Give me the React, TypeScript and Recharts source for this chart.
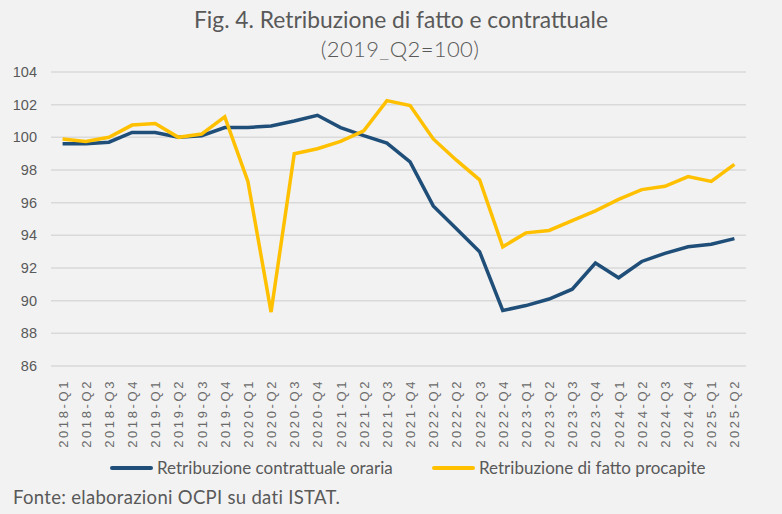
import React from 'react';
import { LineChart, Line, XAxis, YAxis, CartesianGrid, Customized } from 'recharts';

const quarters = [
  '2018-Q1', '2018-Q2', '2018-Q3', '2018-Q4',
  '2019-Q1', '2019-Q2', '2019-Q3', '2019-Q4',
  '2020-Q1', '2020-Q2', '2020-Q3', '2020-Q4',
  '2021-Q1', '2021-Q2', '2021-Q3', '2021-Q4',
  '2022-Q1', '2022-Q2', '2022-Q3', '2022-Q4',
  '2023-Q1', '2023-Q2', '2023-Q3', '2023-Q4',
  '2024-Q1', '2024-Q2', '2024-Q3', '2024-Q4',
  '2025-Q1', '2025-Q2',
];

const contrattualeOraria = [
  99.6, 99.6, 99.7, 100.3, 100.3, 100.0, 100.1, 100.6,
  100.6, 100.7, 101.0, 101.35, 100.6, 100.1, 99.65, 98.5,
  95.8, 94.4, 93.0, 89.4, 89.7, 90.1, 90.7, 92.3,
  91.4, 92.4, 92.9, 93.3, 93.45, 93.8,
];

const fattoProcapite = [
  99.9, 99.75, 100.0, 100.75, 100.85, 100.0, 100.2, 101.25,
  97.3, 89.3, 99.0, 99.3, 99.75, 100.4, 102.25, 101.95,
  99.9, 98.6, 97.4, 93.3, 94.15, 94.3, 94.9, 95.5,
  96.2, 96.8, 97.0, 97.6, 97.3, 98.35,
];

const yTicks = [86, 88, 90, 92, 94, 96, 98, 100, 102, 104];

const seriesNames = ['Retribuzione contrattuale oraria', 'Retribuzione di fatto procapite'];

const data = quarters.map((q, i) => ({
  q,
  contr: contrattualeOraria[i],
  fatto: fattoProcapite[i],
}));

const FONT = "Lato, 'Noto Sans', sans-serif";
const AXIS_FONT = "'Liberation Sans', Arial, sans-serif";
const GREY_TEXT = '#595959';
const BLUE = '#1f4e79';
const YELLOW = '#ffc000';

// Excel-style vertical labels, read bottom to top, wide tracking
const QuarterTick = (props: any) => {
  const { x, y, payload } = props;
  return (
    <g transform={`translate(${x},${y + 5})`}>
      <text
        transform="rotate(-90)"
        x={0}
        y={0}
        dy={5}
        textAnchor="end"
        fill="#6a6a6a"
        fontSize={13}
        fontFamily={AXIS_FONT}
        letterSpacing={2.6}
      >
        {payload.value}
      </text>
    </g>
  );
};

const PlotBackground = (props: any) => {
  const { offset } = props;
  if (!offset) return null;
  return <rect x={offset.left} y={offset.top} width={offset.width} height={offset.height} fill="#ffffff" />;
};

export default function App() {
  const band = 695 / quarters.length;
  return (
    <div style={{ position: 'absolute', left: 0, top: 0, width: 782, height: 514, background: '#f2f2f2', fontFamily: FONT, color: GREY_TEXT, overflow: 'hidden' }}>
      <div style={{ position: 'absolute', top: 5, left: 0, width: 802, textAlign: 'center', fontSize: 22.8, whiteSpace: 'nowrap' }}>
        Fig. 4. Retribuzione di fatto e contrattuale
      </div>
      <div style={{ position: 'absolute', top: 35, left: 0, width: 800, textAlign: 'center', fontSize: 22, fontWeight: 300, letterSpacing: 0.4, whiteSpace: 'nowrap' }}>
        (2019_Q2=100)
      </div>
      <div style={{ position: 'absolute', top: 0, left: 0 }}>
        <LineChart width={782} height={452} data={data} margin={{ top: 72, right: 36, left: 0, bottom: 0 }}>
          <Customized component={PlotBackground} />
          <CartesianGrid vertical={false} stroke="#d9d9d9" strokeWidth={1.5} />
          <XAxis
            dataKey="q"
            interval={0}
            height={86}
            padding={{ left: band / 2, right: band / 2 }}
            tick={<QuarterTick />}
            tickLine={false}
            axisLine={false}
          />
          <YAxis
            domain={[86, 104]}
            ticks={yTicks}
            width={51}
            tickLine={false}
            axisLine={false}
            tick={{ fill: GREY_TEXT, fontSize: 14.5, fontFamily: AXIS_FONT, dx: -6 }}
          />
          <Line type="linear" dataKey="contr" name={seriesNames[0]} stroke={BLUE} strokeWidth={3.5} dot={false} isAnimationActive={false} />
          <Line type="linear" dataKey="fatto" name={seriesNames[1]} stroke={YELLOW} strokeWidth={3.5} dot={false} isAnimationActive={false} />
        </LineChart>
      </div>
      {[BLUE, YELLOW].map((c, i) => (
        <div key={c} style={{ position: 'absolute', top: 458, left: i === 0 ? 110 : 432, display: 'flex', alignItems: 'center', fontSize: 17, whiteSpace: 'nowrap', lineHeight: '20px' }}>
          <span style={{ display: 'inline-block', width: 43, height: 4.5, borderRadius: 2.5, background: c, marginRight: 4 }} />
          <span>{seriesNames[i]}</span>
        </div>
      ))}
      <div style={{ position: 'absolute', top: 486, left: 13, fontSize: 18.5, letterSpacing: 0.3, whiteSpace: 'nowrap' }}>
        Fonte: elaborazioni OCPI su dati ISTAT.
      </div>
    </div>
  );
}
